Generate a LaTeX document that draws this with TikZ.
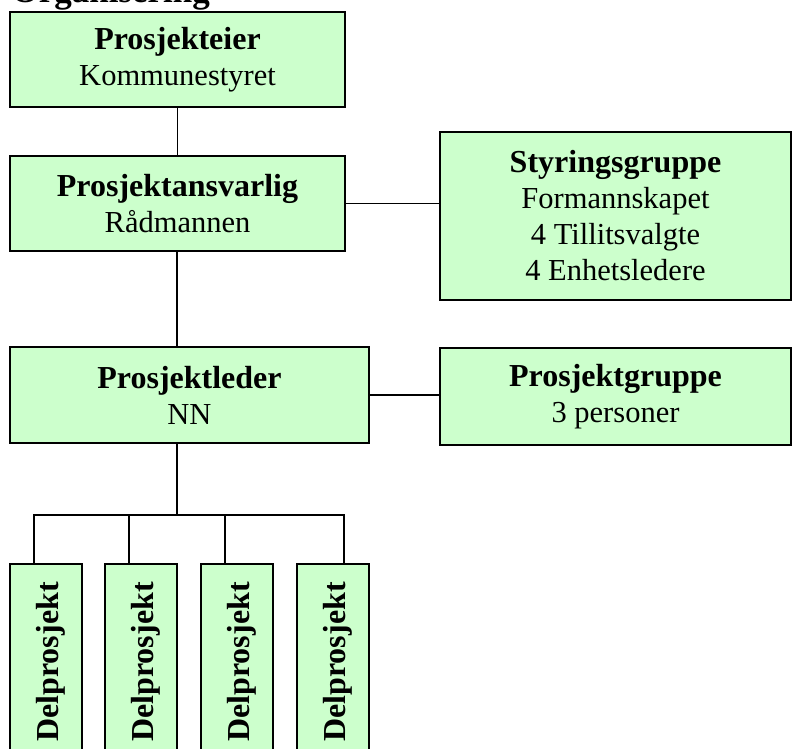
\documentclass[tikz,border=0pt]{standalone}
\usepackage{fontspec}
\setmainfont{Liberation Serif}
\usepackage{xcolor}
\usepackage{tikz}
\definecolor{boxgreen}{HTML}{CCFFCC}
\newcommand\boxhead[1]{{\fontsize{32}{36}\selectfont\bfseries #1}}

\begin{document}
\begin{tikzpicture}[x=1pt, y=-1pt,
        orgbox/.style={draw=black, line width=1.6pt, fill=boxgreen, inner sep=0pt,
                       outer sep=0pt, align=center, font=\fontsize{30.5}{36}\selectfont},
        delbox/.style={orgbox, minimum width=72pt, minimum height=196pt},
        link/.style={line width=1.4pt, color=black}]
                \useasboundingbox (0, 0) rectangle (792, 749);
                \clip (0, 0) rectangle (792, 749);
                \node[anchor=base west, font=\fontsize{35}{40}\selectfont\bfseries] (title) at (8, 3) {Organisering};
                \node[orgbox, minimum width=335pt, minimum height=95pt] (eier) at (177.5, 59.5)
                    {\boxhead{Prosjekteier}\\Kommunestyret};
                \node[orgbox, minimum width=335pt, minimum height=95pt] (ansvarlig) at (177.5, 203.5)
                    {\boxhead{Prosjektansvarlig}\\Rådmannen};
                \node[orgbox, minimum width=351pt, minimum height=168pt] (styring) at (615.5, 216)
                    {\boxhead{Styringsgruppe}\\Formannskapet\\4 Tillitsvalgte\\4 Enhetsledere};
                \node[orgbox, minimum width=359pt, minimum height=96pt] (leder) at (189.5, 395)
                    {\boxhead{Prosjektleder}\\NN};
                \node[orgbox, minimum width=351pt, minimum height=97pt] (gruppe) at (615.5, 396.5)
                    {\boxhead{Prosjektgruppe}\\3 personer};
                \node[delbox] (del1) at (46, 662) {\hspace*{9pt}\rotatebox{90}{\boxhead{Delprosjekt}}};
                \node[delbox] (del2) at (141, 662) {\hspace*{9pt}\rotatebox{90}{\boxhead{Delprosjekt}}};
                \node[delbox] (del3) at (237, 662) {\hspace*{9pt}\rotatebox{90}{\boxhead{Delprosjekt}}};
                \node[delbox] (del4) at (333, 662) {\hspace*{9pt}\rotatebox{90}{\boxhead{Delprosjekt}}};
                \coordinate (bus) at (177, 515);
                \draw[link] (eier) -- (ansvarlig);
                \draw[link] (ansvarlig.east) -- (ansvarlig.east -| styring.west);
                \draw[link] (ansvarlig.south -| bus) -- (bus |- leder.north);
                \draw[link] (leder.east) -- (leder.east -| gruppe.west);
                \draw[link] (leder.south -| bus) -- (bus);
                \draw[link] ([xshift=-12pt]del1.north) |- (bus) -| ([xshift=11pt]del4.north);
                \foreach \d in {del2, del3}
                    \draw[link] ([xshift=-12pt]\d.north) -- ++(0, -49);
            \end{tikzpicture}
\end{document}
